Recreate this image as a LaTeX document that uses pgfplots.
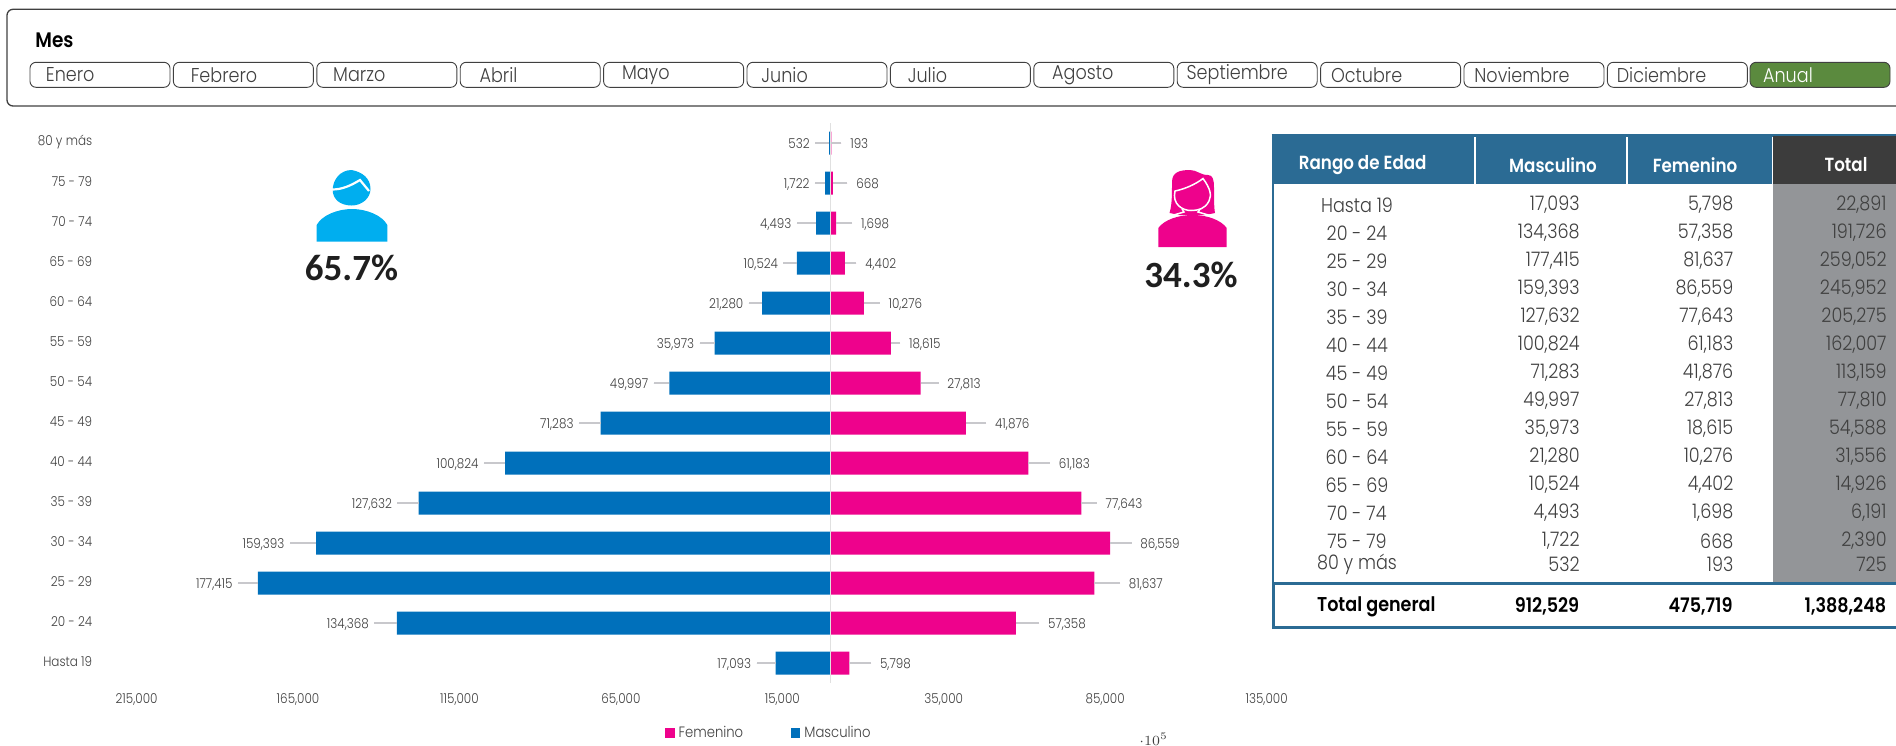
\documentclass[border=0pt]{standalone}
\usepackage{fontspec}
\usepackage{pgfplots}
\usepackage{pgfplotstable}
\pgfplotsset{compat=1.18}
\setmainfont{Poppins}[UprightFont=* Light, BoldFont=* SemiBold, FakeStretch=0.88]
\newfontfamily\carl{Carlito}[BoldFont=* Bold]
\definecolor{mblue}{HTML}{0070BB}
\definecolor{fpink}{HTML}{EE028C}
\definecolor{manblue}{HTML}{00AEEF}
\definecolor{tblue}{HTML}{2B6B94}
\definecolor{tdark}{HTML}{3C3C3C}
\definecolor{tgrey}{HTML}{939598}
\definecolor{lead}{HTML}{C8C8CC}
\definecolor{txt}{HTML}{404040}
\definecolor{green}{HTML}{5B8A3E}
\pgfplotstableread{
y  m      f     me   fe
0  17093  5798  19   21.7
1  134368 57358 22.7 23.3
2  177415 81637 20   25.7
3  159393 86559 26.3 21.3
4  127632 77643 21.3 15.3
5  100824 61183 21.3 21.7
6  71283  41876 21.7 20.3
7  49997  27813 15.7 18
8  35973  18615 15   9.4
9  21280  10276 13.3 15.7
10 10524  4402  13.3 11.4
11 4493   1698  19.4 16
12 1722   668   10.3 14.5
13 532    193   14   10
}\popdata
\newcommand\tr[5]{%
  \node[anchor=center] at (1357,#1) {\fontsize{10}{12}\selectfont #2};
  \node[anchor=east] at (1580,#1) {\fontsize{10}{12}\selectfont #3};
  \node[anchor=east] at (1733.7,#1) {\fontsize{10}{12}\selectfont #4};
  \node[anchor=east] at (1887,#1) {\fontsize{10}{12}\selectfont #5};
}
\begin{document}
\begin{tikzpicture}
\begin{scope}[x=0.5pt,y=-0.5pt,inner sep=0pt,text=txt]
\useasboundingbox (0,0) rectangle (1896,740);
% panel
\draw[txt,line width=0.65pt,rounded corners=3pt] (7,9.3) rectangle (1910,106);
\node[anchor=west,text=black] at (35,40) {\fontsize{10.5}{12}\selectfont\bfseries Mes};
\foreach \n/\o [count=\i from 0] in {Enero/15.5,Febrero/17,Marzo/16,Abril/19,Mayo/18,Junio/14,Julio/17,Agosto/18,Septiembre/9,Octubre/10,Noviembre/10,Diciembre/9}{
  \pgfmathsetmacro\bx{30+143.4*\i}
  \draw[txt,line width=0.45pt,rounded corners=3pt] (\bx,62.3) rectangle ++(140,25);
  \node[anchor=west] at (\bx+\o,75) {\fontsize{10}{12}\selectfont\n};
}
\draw[txt,fill=green,line width=0.45pt,rounded corners=3pt] (1750,62.3) rectangle ++(140,25);
\node[anchor=west,text=white] at (1762.7,75) {\fontsize{10}{12}\selectfont Anual};
% man icon
\fill[manblue] (351.7,170) .. controls (340,170) and (332.7,180) .. (332.7,190) .. controls (332.7,199) and (340,205.5) .. (351.7,205.5) .. controls (362,205.5) and (370.5,198) .. (370.5,189) .. controls (370.5,178) and (362,172) .. (351.7,170) -- cycle;
\draw[white,line width=1.1pt] (332,189.5) .. controls (342,189.5) and (350,186) .. (360,180) -- (369,191);
\fill[manblue] (316.7,241.7) -- (316.7,225) .. controls (322,215) and (338,209) .. (352,209) .. controls (366,209) and (382,215) .. (387.3,225) -- (387.3,241.7) -- cycle;
\node at (351.5,268) {\fontsize{18.5}{20}\selectfont\carl\bfseries\color{black!88} 65.7\%};
% woman icon
\fill[fpink] (1169.5,213) .. controls (1172,205) and (1172,195) .. (1172,182) .. controls (1172,172) and (1180,170) .. (1190,170) .. controls (1197,170) and (1200,175) .. (1208,175) .. controls (1213,175) and (1214,180) .. (1214,188) .. controls (1214,198) and (1214,208) .. (1215,213) -- (1205,215) -- (1180,215) -- cycle;
\draw[white,line width=0.75pt] (1175,191) .. controls (1185,189) and (1196,184) .. (1203,178.5) .. controls (1210,188) and (1212,195) .. (1209,201) .. controls (1205,209) and (1198,210.5) .. (1191,210.5) .. controls (1182,210.5) and (1172,204) .. (1175,191) -- cycle;
\draw[white,line width=0.75pt] (1182,209) -- (1184,212) -- (1172,215.5);
\draw[white,line width=0.75pt] (1200,209) -- (1198,212) -- (1210,215.5);
\fill[fpink] (1158.3,247) -- (1158.3,228) .. controls (1164,220) and (1178,215) .. (1192.7,215) .. controls (1207,215) and (1221,220) .. (1226.7,228) -- (1226.7,247) -- cycle;
\node at (1191,275) {\fontsize{18.5}{20}\selectfont\carl\bfseries\color{black!88} 34.3\%};
% table
\fill[tgrey] (1773,184) rectangle (1900,582);
\fill[tblue] (1271.5,135) rectangle (1773,184);
\fill[tdark] (1773,135.5) rectangle (1900,184);
\draw[tblue,line width=0.6pt] (1271.5,135) -- (1900,135);
\foreach \sx in {1475,1627,1772.5}\draw[white,line width=0.8pt] (\sx,137) -- (\sx,184);
\draw[tblue,line width=0.9pt] (1273,184) -- (1273,582);
\draw[tblue,line width=1.6pt] (1910,583.5) -- (1273.5,583.5) -- (1273.5,627.5) -- (1910,627.5);
\begin{scope}[text=white]
\node at (1362.7,165) {\fontsize{9.5}{12}\selectfont\bfseries Rango de Edad};
\node at (1553,165) {\fontsize{9.5}{12}\selectfont\bfseries Masculino};
\node at (1695,165) {\fontsize{9.5}{12}\selectfont\bfseries Femenino};
\node at (1846,165) {\fontsize{9.5}{12}\selectfont\bfseries Total};
\end{scope}
\tr{205}{Hasta 19}{17,093}{5,798}{22,891}
\tr{233}{20 - 24}{134,368}{57,358}{191,726}
\tr{261}{25 - 29}{177,415}{81,637}{259,052}
\tr{289}{30 - 34}{159,393}{86,559}{245,952}
\tr{317}{35 - 39}{127,632}{77,643}{205,275}
\tr{345}{40 - 44}{100,824}{61,183}{162,007}
\tr{373}{45 - 49}{71,283}{41,876}{113,159}
\tr{401}{50 - 54}{49,997}{27,813}{77,810}
\tr{429}{55 - 59}{35,973}{18,615}{54,588}
\tr{457}{60 - 64}{21,280}{10,276}{31,556}
\tr{485}{65 - 69}{10,524}{4,402}{14,926}
\tr{513}{70 - 74}{4,493}{1,698}{6,191}
\tr{541}{75 - 79}{1,722}{668}{2,390}
\tr{564.5}{80 y más}{532}{193}{725}
\node[anchor=west,text=black] at (1316.7,606.7) {\fontsize{10}{12}\selectfont\bfseries Total general};
\node[anchor=east,text=black] at (1579.6,606.7) {\fontsize{10}{12}\selectfont\bfseries 912,529};
\node[anchor=east,text=black] at (1733,606.7) {\fontsize{10}{12}\selectfont\bfseries 475,719};
\node[anchor=east,text=black] at (1886.6,606.7) {\fontsize{10}{12}\selectfont\bfseries 1,388,248};
\end{scope}
% chart
\begin{axis}[
  at={(68.3pt,-341.5pt)},anchor=south west,
  scale only axis,width=565pt,height=280pt,
  xmin=-215000,xmax=135000,ymin=-0.5,ymax=13.5,
  clip=false,
  axis line style={draw=none},
  major tick length=0pt,
  xtick={-215000,-165000,-115000,-65000,-15000,35000,85000,135000},
  xticklabels={{215,000},{165,000},{115,000},{65,000},{15,000},{35,000},{85,000},{135,000}},
  ytick={0,...,13},
  yticklabels={Hasta 19,20 - 24,25 - 29,30 - 34,35 - 39,40 - 44,45 - 49,50 - 54,55 - 59,60 - 64,65 - 69,70 - 74,75 - 79,80 y más},
  tick label style={font=\fontsize{6.8}{8}\selectfont,text=txt,inner sep=0pt},
  yticklabel style={anchor=east,xshift=-22pt,yshift=0.5pt},
  xticklabel style={anchor=center,yshift=-8.5pt},
  legend style={at={(0.4676,-0.0893)},anchor=west,draw=none,fill=none,inner sep=0pt,
    legend columns=2,font=\fontsize{7.5}{9}\selectfont,text=txt,
    /tikz/every even column/.append style={column sep=22pt}},
  legend image code/.code={\fill[#1] (0pt,-2.4pt) rectangle (4.6pt,2.4pt);},
  legend cell align=left,
  nodes near coords style={font=\fontsize{6.8}{8}\selectfont,text=txt,inner sep=0pt,text height=5pt,text depth=0pt},
  /pgf/number format/.cd,fixed,precision=0,1000 sep={,},assume math mode=true,
]
% Femenino first for legend order
\addplot[xbar,bar width=11.5pt,bar shift=0pt,draw=none,fill=fpink,
  error bars/.cd,x dir=plus,x explicit,error mark=none,error bar style={draw=lead,line width=0.7pt}]
  table[x=f,y=y,x error expr=\thisrow{fe}/0.0032286]{\popdata};
\addlegendentry{Femenino}
\addplot[xbar,bar width=11.5pt,bar shift=0pt,draw=none,fill=mblue,
  error bars/.cd,x dir=minus,x explicit,error mark=none,error bar style={draw=lead,line width=0.7pt}]
  table[x expr=-\thisrow{m},y=y,x error expr=\thisrow{me}/0.0032286]{\popdata};
\addlegendentry{Masculino}
\addplot[draw=none,forget plot,mark=none,nodes near coords,point meta=\thisrow{f},
  nodes near coords style={anchor=west,xshift=4.25pt}]
  table[x expr=\thisrow{f}+\thisrow{fe}/0.0032286,y=y]{\popdata};
\addplot[draw=none,forget plot,mark=none,nodes near coords,point meta=\thisrow{m},
  nodes near coords style={anchor=east,xshift=-2.5pt}]
  table[x expr=-\thisrow{m}-\thisrow{me}/0.0032286,y=y]{\popdata};
\draw[black!12,line width=0.6pt] (axis cs:0,-0.5) -- (axis cs:0,13.5);
\end{axis}
\end{tikzpicture}
\end{document}
